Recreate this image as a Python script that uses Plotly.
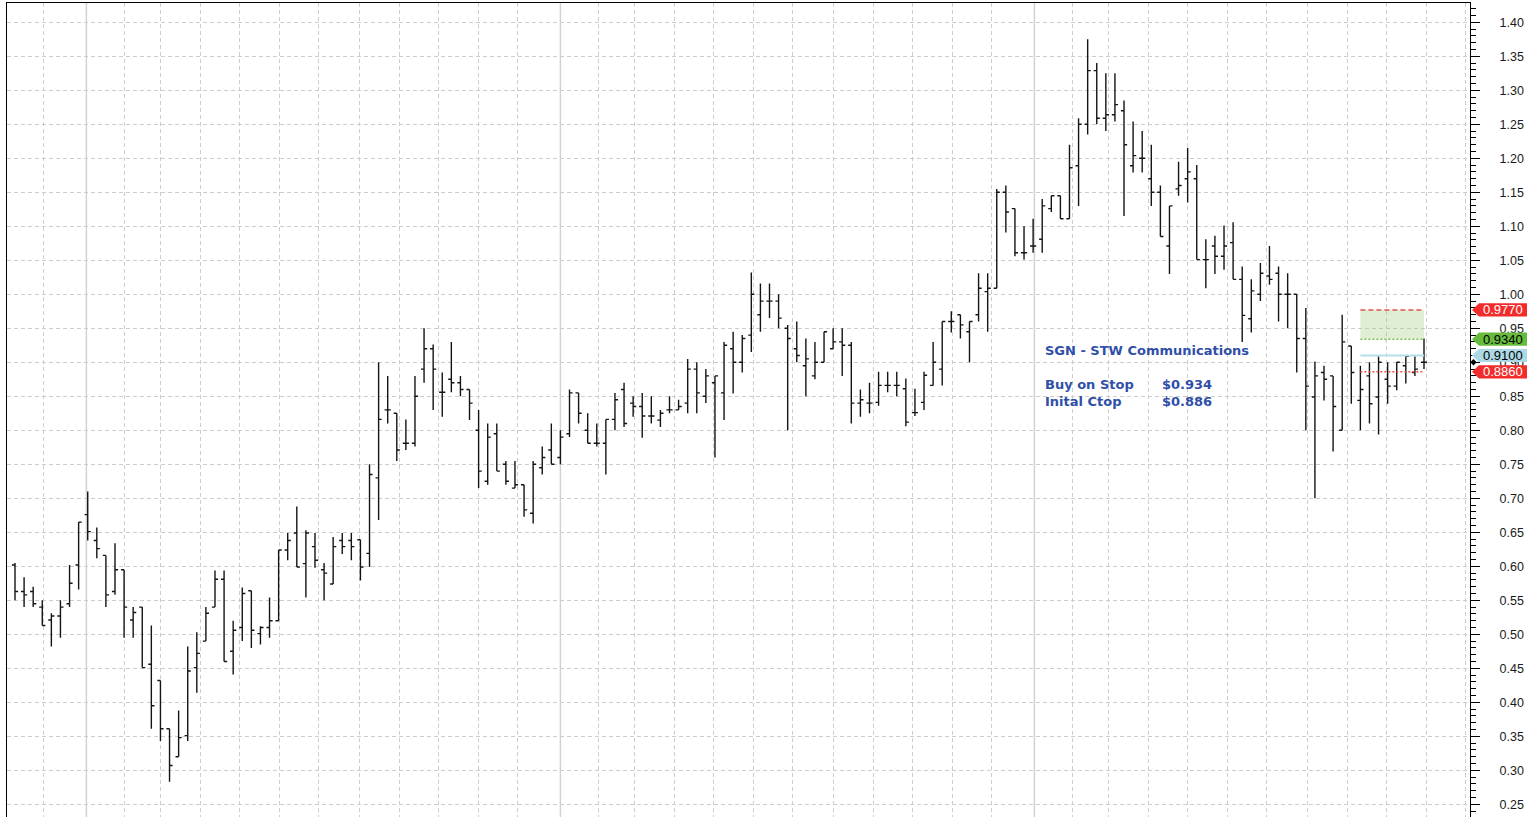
import pandas as pd
import plotly.graph_objects as go

# ---------------- data (weekly OHLC bars) ----------------
start_date = "2004-11-09"
n_bars = 156

opens = [0.602, 0.563, 0.563, 0.540, 0.521, 0.527, 0.545, 0.602, 0.676, 0.638,
         0.616, 0.563, 0.595, 0.521, 0.540, 0.456, 0.432, 0.361, 0.320, 0.351,
         0.451, 0.490, 0.540, 0.581, 0.475, 0.510, 0.564, 0.501, 0.510, 0.520,
         0.624, 0.649, 0.604, 0.629, 0.595, 0.574, 0.638, 0.638, 0.639, 0.619,
         0.730, 0.830, 0.825, 0.781, 0.781, 0.890, 0.920, 0.856, 0.875, 0.870,
         0.860, 0.800, 0.725, 0.795, 0.750, 0.715, 0.720, 0.678, 0.745, 0.771,
         0.760, 0.795, 0.855, 0.800, 0.781, 0.781, 0.816, 0.860, 0.840, 0.835,
         0.821, 0.815, 0.830, 0.830, 0.840, 0.890, 0.850, 0.870, 0.855, 0.920,
         0.900, 0.940, 0.970, 0.990, 0.990, 0.950, 0.920, 0.895, 0.880, 0.900,
         0.920, 0.930, 0.925, 0.840, 0.840, 0.841, 0.866, 0.866, 0.861, 0.826,
         0.841, 0.866, 0.890, 0.960, 0.970, 0.945, 0.970, 1.004, 1.009, 1.150,
         1.126, 1.061, 1.071, 1.081, 1.126, 1.145, 1.111, 1.189, 1.250, 1.329,
         1.259, 1.264, 1.270, 1.189, 1.200, 1.170, 1.150, 1.071, 1.155, 1.170,
         1.170, 1.051, 1.071, 1.056, 1.076, 1.022, 0.964, 1.000, 1.027, 1.031,
         1.000, 1.000, 0.935, 0.849, 0.885, 0.880, 0.800, 0.924, 0.844, 0.880,
         0.849, 0.875, 0.865, 0.895, 0.885, 0.900]
highs = [0.605, 0.584, 0.570, 0.550, 0.531, 0.550, 0.602, 0.665, 0.710, 0.657,
         0.616, 0.634, 0.595, 0.540, 0.540, 0.513, 0.432, 0.361, 0.388, 0.482,
         0.503, 0.540, 0.594, 0.594, 0.520, 0.569, 0.564, 0.512, 0.554, 0.624,
         0.649, 0.688, 0.653, 0.649, 0.605, 0.643, 0.649, 0.649, 0.639, 0.750,
         0.900, 0.880, 0.825, 0.816, 0.880, 0.950, 0.926, 0.885, 0.930, 0.880,
         0.860, 0.830, 0.810, 0.810, 0.755, 0.755, 0.720, 0.755, 0.776, 0.810,
         0.800, 0.860, 0.855, 0.825, 0.810, 0.816, 0.855, 0.870, 0.850, 0.855,
         0.850, 0.830, 0.850, 0.845, 0.905, 0.900, 0.890, 0.880, 0.930, 0.945,
         0.940, 1.032, 1.016, 1.016, 1.000, 0.955, 0.960, 0.935, 0.930, 0.945,
         0.950, 0.950, 0.930, 0.860, 0.870, 0.886, 0.886, 0.886, 0.876, 0.861,
         0.886, 0.930, 0.960, 0.975, 0.970, 0.960, 1.031, 1.031, 1.155, 1.160,
         1.126, 1.100, 1.111, 1.140, 1.145, 1.145, 1.220, 1.259, 1.375, 1.340,
         1.325, 1.325, 1.285, 1.254, 1.240, 1.220, 1.160, 1.130, 1.195, 1.215,
         1.190, 1.081, 1.086, 1.101, 1.106, 1.041, 1.022, 1.046, 1.071, 1.041,
         1.031, 1.000, 0.980, 0.901, 0.895, 0.880, 0.970, 0.924, 0.895, 0.900,
         0.909, 0.900, 0.900, 0.909, 0.909, 0.935]
lows = [0.550, 0.540, 0.540, 0.513, 0.482, 0.495, 0.540, 0.566, 0.638, 0.612,
        0.540, 0.558, 0.495, 0.495, 0.451, 0.361, 0.343, 0.283, 0.320, 0.343,
        0.414, 0.490, 0.540, 0.460, 0.441, 0.490, 0.480, 0.485, 0.495, 0.520,
        0.609, 0.599, 0.554, 0.598, 0.550, 0.574, 0.618, 0.609, 0.579, 0.599,
        0.668, 0.810, 0.755, 0.771, 0.776, 0.870, 0.830, 0.820, 0.856, 0.850,
        0.815, 0.715, 0.720, 0.740, 0.720, 0.715, 0.673, 0.663, 0.735, 0.750,
        0.750, 0.790, 0.810, 0.781, 0.776, 0.735, 0.800, 0.805, 0.820, 0.789,
        0.810, 0.805, 0.825, 0.830, 0.825, 0.825, 0.840, 0.760, 0.815, 0.854,
        0.885, 0.915, 0.945, 0.965, 0.950, 0.800, 0.900, 0.850, 0.875, 0.900,
        0.920, 0.880, 0.810, 0.820, 0.825, 0.836, 0.856, 0.850, 0.806, 0.821,
        0.830, 0.866, 0.866, 0.944, 0.935, 0.900, 0.960, 0.945, 1.009, 1.091,
        1.056, 1.051, 1.061, 1.061, 1.121, 1.111, 1.111, 1.130, 1.235, 1.250,
        1.240, 1.254, 1.115, 1.179, 1.179, 1.130, 1.085, 1.030, 1.145, 1.135,
        1.051, 1.009, 1.030, 1.036, 1.022, 0.930, 0.944, 0.990, 1.014, 0.960,
        0.950, 0.885, 0.800, 0.700, 0.844, 0.769, 0.800, 0.839, 0.800, 0.810,
        0.794, 0.839, 0.859, 0.869, 0.880, 0.890]
closes = [0.563, 0.558, 0.545, 0.513, 0.527, 0.540, 0.575, 0.665, 0.651, 0.626,
          0.558, 0.595, 0.540, 0.532, 0.451, 0.395, 0.361, 0.307, 0.348, 0.446,
          0.472, 0.531, 0.581, 0.460, 0.506, 0.560, 0.506, 0.510, 0.520, 0.624,
          0.638, 0.599, 0.649, 0.609, 0.590, 0.629, 0.629, 0.629, 0.599, 0.735,
          0.816, 0.830, 0.771, 0.781, 0.850, 0.920, 0.890, 0.856, 0.870, 0.860,
          0.840, 0.740, 0.790, 0.740, 0.725, 0.720, 0.683, 0.750, 0.760, 0.750,
          0.790, 0.855, 0.825, 0.781, 0.781, 0.816, 0.845, 0.810, 0.835, 0.821,
          0.821, 0.825, 0.830, 0.835, 0.890, 0.855, 0.880, 0.880, 0.925, 0.900,
          0.935, 1.000, 0.990, 0.990, 0.965, 0.935, 0.910, 0.905, 0.900, 0.945,
          0.930, 0.925, 0.840, 0.845, 0.840, 0.866, 0.866, 0.866, 0.812, 0.826,
          0.881, 0.900, 0.960, 0.960, 0.955, 0.960, 1.009, 1.009, 1.150, 1.121,
          1.061, 1.061, 1.071, 1.130, 1.145, 1.111, 1.186, 1.250, 1.329, 1.259,
          1.264, 1.279, 1.220, 1.204, 1.200, 1.150, 1.085, 1.130, 1.160, 1.180,
          1.051, 1.051, 1.056, 1.071, 1.022, 0.969, 1.005, 1.031, 1.022, 1.000,
          1.000, 0.935, 0.865, 0.880, 0.875, 0.835, 0.930, 0.885, 0.860, 0.839,
          0.900, 0.865, 0.900, 0.909, 0.890, 0.900]

title_text = "SGN - STW Communications"
buy_label, buy_value = "Buy on Stop", "$0.934"
stop_label, stop_value = "Inital Ctop", "$0.886"
level_top = 0.977      # red dashed
level_buy = 0.934      # green dotted
level_mid = 0.910      # light blue
level_stop = 0.886     # red dotted
last_price = 0.900
setup_first_bar, setup_last_bar = 148, 155
y_ticks_min, y_ticks_max = 0.25, 1.40

# ---------------- figure ----------------
dates = pd.date_range(start_date, periods=n_bars, freq="7D")

W, H = 1527, 817
ML, MR, MT, MB = 7, 57, 3, 0
plot_w = W - ML - MR


def px_to_paper(px):
    return (px - ML) / plot_w


fig = go.Figure()
fig.add_trace(go.Ohlc(
    x=dates, open=opens, high=highs, low=lows, close=closes,
    increasing=dict(line=dict(color="#141414", width=1.4)),
    decreasing=dict(line=dict(color="#141414", width=1.4)),
    tickwidth=0.34, hoverinfo="skip", showlegend=False,
))

# month grid (dashed) and year separators (solid)
months = pd.date_range(dates[0] - pd.Timedelta(days=40), dates[-1] + pd.Timedelta(days=40), freq="MS")
month_ticks = [d for d in months if d.month != 1]
years = [d + pd.Timedelta(days=2) for d in months if d.month == 1]

grid_col = "#cdcdcd"
grid_dash = "4px,3px"

shapes = []
for d in years:
    shapes.append(dict(type="line", xref="x", yref="paper", x0=d, x1=d, y0=0, y1=1,
                       line=dict(color="#d2d2d2", width=1.5), layer="below"))

x0s, x1s = dates[setup_first_bar], dates[setup_last_bar]
shapes += [
    dict(type="rect", xref="x", yref="y", x0=x0s, x1=x1s, y0=level_buy, y1=level_top,
         fillcolor="rgba(150,200,115,0.30)", line=dict(width=0), layer="above"),
    dict(type="line", xref="x", yref="y", x0=x0s, x1=x1s, y0=level_top, y1=level_top,
         line=dict(color="#e8504a", width=1.6, dash="5px,3px")),
    dict(type="line", xref="x", yref="y", x0=x0s, x1=x1s, y0=level_buy, y1=level_buy,
         line=dict(color="#7dc254", width=1.6, dash="2px,2px")),
    dict(type="line", xref="x", yref="y", x0=x0s, x1=x1s, y0=level_mid, y1=level_mid,
         line=dict(color="#b7dde8", width=2)),
    dict(type="line", xref="x", yref="y", x0=x0s, x1=x1s, y0=level_stop, y1=level_stop,
         line=dict(color="#e8504a", width=1.6, dash="2px,2px")),
]

annotations = []

# price tags on the right axis
def add_tag(yv, fill, txt, txtcol):
    h = 0.0097
    xa, xb, xc = px_to_paper(1472), px_to_paper(1479), px_to_paper(1535)
    path = (f"M {xa},{yv} L {xb},{yv + h} L {xc},{yv + h} "
            f"L {xc},{yv - h} L {xb},{yv - h} Z")
    shapes.append(dict(type="path", xref="paper", yref="y", path=path,
                       fillcolor=fill, line=dict(width=0), layer="above"))
    annotations.append(dict(xref="paper", yref="y", x=px_to_paper(1481), y=yv,
                            text=txt, xanchor="left", yanchor="middle", showarrow=False,
                            font=dict(family="Liberation Sans", size=13, color=txtcol)))


add_tag(level_top, "#f22b2b", f"{level_top:.4f}", "white")
add_tag(level_buy, "#66bb3c", f"{level_buy:.4f}", "black")
add_tag(level_mid, "#acd9e6", f"{level_mid:.4f}", "black")
add_tag(level_stop, "#f22b2b", f"{level_stop:.4f}", "white")

# last price diamond marker on the axis
dx, dy = 3.2 / plot_w, 3.2 / 680
xd = px_to_paper(1473.5)
shapes.append(dict(type="path", xref="paper", yref="y",
                   path=f"M {xd - dx},{last_price} L {xd},{last_price + dy} "
                        f"L {xd + dx},{last_price} L {xd},{last_price - dy} Z",
                   fillcolor="black", line=dict(width=0), layer="above"))

blue = "#2f4fa8"
txt_font = dict(family="DejaVu Sans", size=13, color=blue)
annotations += [
    dict(xref="paper", yref="y", x=px_to_paper(1043), y=0.918, text=f"<b>{title_text}</b>",
         xanchor="left", yanchor="middle", showarrow=False, font=txt_font),
    dict(xref="paper", yref="y", x=px_to_paper(1043), y=0.868, text=f"<b>{buy_label}</b>",
         xanchor="left", yanchor="middle", showarrow=False, font=txt_font),
    dict(xref="paper", yref="y", x=px_to_paper(1160), y=0.868, text=f"<b>{buy_value}</b>",
         xanchor="left", yanchor="middle", showarrow=False, font=txt_font),
    dict(xref="paper", yref="y", x=px_to_paper(1043), y=0.843, text=f"<b>{stop_label}</b>",
         xanchor="left", yanchor="middle", showarrow=False, font=txt_font),
    dict(xref="paper", yref="y", x=px_to_paper(1160), y=0.843, text=f"<b>{stop_value}</b>",
         xanchor="left", yanchor="middle", showarrow=False, font=txt_font),
]

week = pd.Timedelta(days=7)
x_range = [dates[0] - week * 0.88, dates[-1] + week * 5.06]
px_per_unit = 680.0
y_top = y_ticks_max + (22.3 - MT) / px_per_unit
y_bot = y_top - (H - MT - MB) / px_per_unit

fig.update_layout(
    width=W, height=H,
    margin=dict(l=ML, r=MR, t=MT, b=MB, pad=0),
    paper_bgcolor="white", plot_bgcolor="white",
    showlegend=False,
    shapes=shapes, annotations=annotations,
    xaxis=dict(
        type="date", range=x_range, rangeslider=dict(visible=False),
        tickmode="array", tickvals=month_ticks, showticklabels=False, ticks="",
        showgrid=True, gridcolor=grid_col, griddash=grid_dash, gridwidth=1,
        showline=True, linecolor="black", linewidth=1, mirror=True,
        zeroline=False, fixedrange=True, automargin=False,
    ),
    yaxis=dict(
        side="right", range=[y_bot, y_top],
        tick0=0, dtick=0.05, tickformat=".2f",
        ticks="outside", ticklen=9, tickwidth=1, tickcolor="black",
        ticklabelstandoff=17,
        minor=dict(dtick=0.01, ticks="outside", ticklen=5, tickcolor="black", showgrid=False),
        showgrid=True, gridcolor=grid_col, griddash=grid_dash, gridwidth=1,
        showline=True, linecolor="black", linewidth=1.2, mirror=True,
        zeroline=False, fixedrange=True, automargin=False,
        tickfont=dict(family="Liberation Sans", size=12.5, color="#1a1a1a"),
    ),
)

fig.write_html(
    "out.html",
    config={"displayModeBar": False},
    post_script="document.body.style.margin='0px';document.body.style.overflow='hidden';",
)
